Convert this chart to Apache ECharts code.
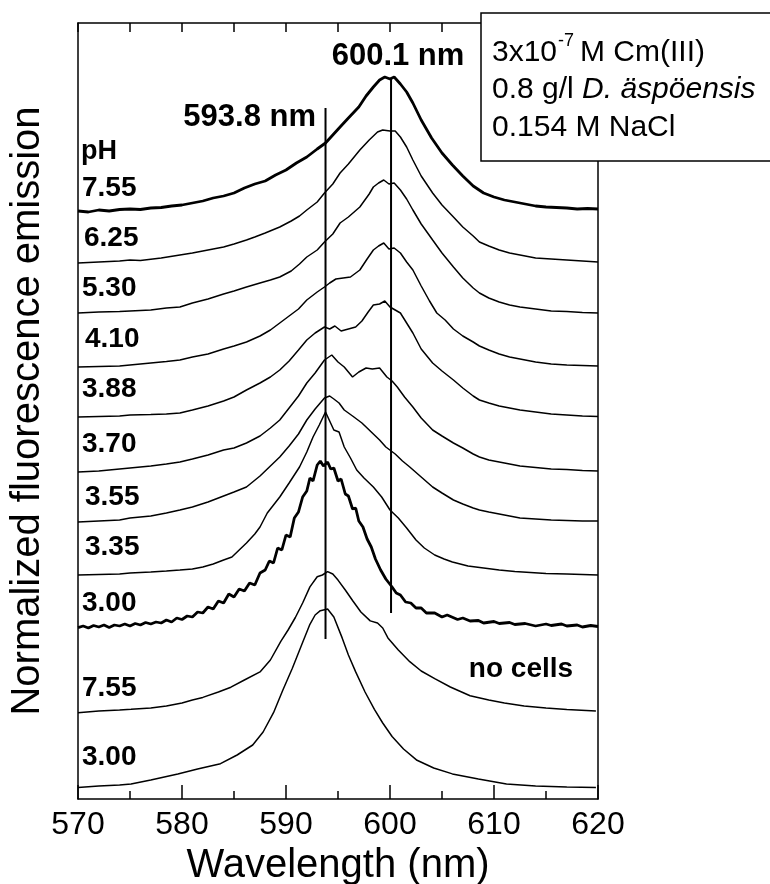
<!DOCTYPE html>
<html><head><meta charset="utf-8">
<script src="https://cdn.jsdelivr.net/npm/echarts@6/dist/echarts.min.js"></script>
<style>html,body{margin:0;padding:0;background:#fff}#c{width:770px;height:884px}</style>
</head><body><div id="c"></div>
<script>
// wavelength axis
const xMin = 570, xMax = 620, xStep = 10;
// stacked, offset spectra: [wavelength nm, intensity (a.u., with offset)]
const ph755 = [[570,588],[571,587],[572,589],[573,588],[574,589.5],[575,590],[576,589.5],[577,591],[578,591.5],[579,593],[580,594],[581,596],[582,598],[583,601],[584,603],[585,606],[586,611],[587,615],[588,618],[589,624],[590,629],[591,636],[592,642],[593,650],[593.8,656],[594.5,664],[595.2,672],[596,681],[597,692],[597.7,703],[598.4,712],[599,719],[599.5,722],[600,720],[600.4,722],[601,715],[601.6,707],[602.2,696],[603,679],[604,661],[605,646],[606,634],[607,623],[608,613],[609,606],[610,602],[611,599],[612,597],[613,595],[614,593],[615,592],[616,591.5],[617,591],[618,590],[619,590.5],[620,590]];
const ph625 = [[570,536],[572,537],[574,538],[575,539],[576,538.5],[578,541],[579.8,544],[581,546],[582,548],[583,550],[584,552],[585,555],[586.2,559],[587,562],[588,566],[589.4,572],[590.5,578],[591.3,583],[592,589],[593,597],[593.7,606],[594.5,615],[595.2,626],[596,635],[597.1,649],[598,659],[598.8,667],[599.3,669],[600,668],[600.5,668],[601,662],[601.6,652],[602.2,639],[603,623],[604.1,606],[605,594],[606.1,582],[607,572],[608,563],[608.6,557],[609.5,553],[610.5,549],[611.5,546],[612.5,544],[614,541],[615.5,540],[617,539],[618.5,538],[620,537]];
const ph530 = [[570,486],[572,487],[574,487.5],[575,488],[577,489],[578.5,491],[579.8,492],[581,496],[582.5,500],[584,505],[585,508],[586.2,512],[587.5,516],[588.5,519],[589.4,522],[590.5,528],[591.3,535],[592,542],[593,549],[593.7,557],[594.5,565],[595.2,576],[596,582],[597.1,592],[598,605],[598.4,612],[598.9,616],[599.4,619],[599.9,615],[600.4,616],[601,609],[601.6,600],[602.2,589],[603,575],[604.1,559],[605,546],[606.1,532],[607,521],[608,511],[608.6,506],[609.5,501],[610.5,497],[611.5,494],[612.5,492],[614,490],[615.5,488],[617,487.5],[618.5,486.5],[620,486]];
const ph410 = [[570,432],[572,432.5],[574,433],[575,434],[577,436],[578.5,437.5],[579.8,439],[581,442],[582.5,445],[584,450],[585,453],[586.2,457],[587.5,463],[588.5,469],[589.4,476],[590.3,483],[591.2,490],[592,499],[593,507],[593.7,512],[594.2,516],[594.8,520],[595.5,521],[596.2,522],[597.1,529],[597.8,540],[598.4,549],[598.9,553],[599.4,556],[599.9,550],[600.4,551],[601,546],[601.6,537],[602.2,529],[603,513],[603.8,498],[604.5,486],[605.3,479],[606.1,470],[607,463],[608,457],[608.6,453],[609.5,449],[610.5,445],[611.5,442],[612.5,440],[614,437],[615.5,435],[617,434],[618.5,433.5],[620,433]];
const ph388 = [[570,382],[572,382.5],[574,383],[575,384],[577,384.5],[578.5,385],[579.8,386],[581,389],[582.5,393],[584,398],[585,402],[586.2,409],[587.5,416],[588.5,422],[589.4,429],[590.3,438],[591.2,449],[592,459],[592.8,466],[593.7,472],[594.2,470],[594.7,473],[595.3,468],[596,470],[596.7,472],[597.3,478],[597.9,487],[598.4,494],[599,495],[599.5,498],[600,492],[600.5,489],[601,486],[601.6,476],[602.2,466],[603,450],[604.1,436],[605,428],[606.1,419],[607,411],[608,403],[608.6,399],[609.5,396],[610.5,393],[611.5,391],[612.5,389],[614,387],[615.5,385],[617,384],[618.5,383],[620,382.5]];
const ph370 = [[570,327],[572,328],[574,330],[575,331],[577,333],[578.5,335],[579.8,337],[581,340],[582.5,344],[584,349],[585,351],[586.2,356],[587.5,363],[588.5,371],[589.4,379],[590.3,391],[591.2,403],[592,416],[592.8,426],[593.7,439],[594.4,444],[595,437],[595.6,432],[596.4,422],[597,427],[597.7,431],[598.3,430],[599,431],[599.7,422],[600.2,418],[600.7,412],[601.4,402],[602.2,392],[603,381],[604.1,369],[605,363],[606.1,356],[607,351],[608,345],[608.6,342],[609.5,339],[610.5,337],[611.5,335],[612.5,333],[614,331.5],[615.5,330],[617,329.5],[618.5,328.5],[620,328]];
const ph355 = [[570,277],[572,278],[574,279],[575,281],[577,283],[578.5,286],[579.8,289],[581,292],[582.5,297],[584,303],[585,307],[586.2,312],[587.5,323],[588.5,333],[589.4,342],[590.3,353],[591.2,365],[592,379],[592.8,390],[593.7,401],[594.2,403],[594.6,400],[595.1,396],[595.6,389],[596.4,383],[597.3,376],[598.2,367],[599,359],[599.6,352],[600.5,345],[601.2,338],[601.9,332],[603,322],[604.1,312],[605,306],[606.1,299],[607,295],[608,291],[608.6,289],[609.5,287],[610.5,285],[611.5,283],[612.5,281],[614,280],[615.5,279],[617,278.5],[618.5,278],[620,278]];
const ph335 = [[570,224],[572,224.5],[574,225],[575,226],[577,227],[578.5,228],[579.8,229],[581,230],[582,232],[583,235],[584,239],[584.8,242],[585.5,249],[586.2,256],[587,265],[587.5,272],[588.2,286],[588.8,294],[589.4,302],[590.3,316],[591.3,332],[592,347],[592.6,362],[593.2,374],[593.8,387],[594.2,378],[594.6,369],[595.1,367],[595.6,352],[596.2,341],[596.8,329],[597.5,321],[598.4,312],[599.2,302],[600,289],[600.8,281],[601.6,271],[602.5,259],[603.3,251],[604.3,244],[605.2,240],[606,237],[607.5,233],[609,231],[610.5,229],[612,227.5],[613.5,226.5],[615,225.5],[617,225],[618.5,224.5],[620,224]];
const ph300 = [[570,171.3],[570.5,173],[571,171],[571.5,173.5],[572,172],[572.5,174],[573,171.5],[573.5,174],[574,173],[574.5,175],[575,173],[575.5,175.5],[576,174],[576.5,176.5],[577,175],[577.5,177],[578,176],[578.5,179],[579,177],[579.5,181],[580,179.5],[580.5,183],[581,182],[581.5,187],[582,186],[582.5,192],[583,190],[583.5,198],[584,196],[584.5,205],[585,202],[585.5,210],[586,208],[586.5,216],[587,214],[587.5,226],[588,229],[588.4,238],[588.8,236],[589.2,251],[589.6,249],[590,264],[590.4,262],[590.8,281],[591.2,287],[591.6,302],[592,308],[592.3,321],[592.6,318],[593,334],[593.3,338],[593.6,333],[594,337],[594.3,330],[594.6,331],[595,318],[595.3,320],[595.7,305],[596,303],[596.4,290],[596.7,291],[597,278],[597.4,272],[597.8,260],[598.2,252],[598.6,240],[599.1,229],[599.6,220],[600.2,212],[600.6,206],[601,204],[601.5,197],[602,196],[602.5,191],[603,191],[603.5,186],[604.3,186],[605,182],[605.5,184],[606.5,179.5],[607,181],[607.7,178],[608.5,178.5],[609,176],[610,177.5],[610.5,175.5],[611.5,176.5],[612,174.5],[613,175.5],[614,173],[615,175],[615.5,173.5],[616.5,175],[617,173],[618,174],[618.5,172],[619.3,173.5],[620,172.5]];
const noCells755 = [[570,86.3],[572,88],[574,89],[575.1,89.7],[577,91],[578.5,93.1],[580,96],[581,99],[582,101.6],[583.5,107],[584.7,111.8],[586,119],[587.5,127.1],[588.5,139],[589.5,157.7],[590.2,169],[590.9,181.5],[591.6,196],[592.3,212.1],[593,222.3],[593.5,224],[594,227.4],[594.5,225],[595,218.9],[595.7,209],[596.4,198.5],[597.2,187],[598.1,178.1],[598.8,176],[599.3,171],[599.8,161.1],[600.8,149],[601.9,137.3],[603,128],[604.3,120.3],[605.8,112],[607.7,103.3],[609.5,99],[611,96],[612.9,93.1],[615,91],[617,89.5],[619.8,88]];
const noCells300 = [[570,11.5],[572,13],[574,14],[575.1,14.9],[577,19],[579.6,25.1],[581.5,30],[583.7,35.3],[585.3,44],[586.8,54],[587.8,67],[588.8,86.3],[589.7,109],[590.6,130.5],[591.5,154],[592.3,174.7],[592.8,184],[593.3,188.3],[594,190],[594.6,182],[595.4,161.1],[596,144],[596.7,127.1],[597.6,107],[598.5,89.7],[599.3,76],[600.2,62.5],[601.3,50],[602.6,38.7],[604.2,31],[606,25.1],[608.5,20],[611.2,14.9],[614,13],[617,12],[619.8,11.5]];
// peak marker lines [wavelength, from, to]
const peakLines = [[593.8, 160, 691], [600.1, 186, 721]];
const peakTexts = ['593.8 nm', '600.1 nm'];
const phLabels = ['7.55','6.25','5.30','4.10','3.88','3.70','3.55','3.35','3.00','7.55','3.00'];
const yMax = 776;

const traces = [ph755, ph625, ph530, ph410, ph388, ph370, ph355, ph335, ph300, noCells755, noCells300];
const thick = [true,false,false,false,false,false,false,false,true,false,false];

const series = traces.map((d, i) => ({
  type: 'line', data: d, showSymbol: false, silent: true,
  lineStyle: { color: '#000', width: thick[i] ? 2.8 : 1.5 }, z: 3
}));
peakLines.forEach(p => series.push({
  type: 'line', data: [[p[0], p[1]], [p[0], p[2]]], showSymbol: false, silent: true,
  lineStyle: { color: '#000', width: 2 }, z: 4
}));

const FF = '"Liberation Sans", Arial';
const labelY = [188, 238, 288, 339, 389, 444, 497, 547, 603, 688, 757];
const labelX = [82, 84, 82, 85, 82, 82, 85, 85, 82, 82, 82];
const graphic = [];
graphic.push({ type: 'text', x: 81, y: 152, style: { text: 'pH', font: 'bold 27px ' + FF, fill: '#000', verticalAlign: 'middle' }, z: 10 });
phLabels.forEach((t, i) => graphic.push({ type: 'text', x: labelX[i], y: labelY[i], style: { text: t, font: 'bold 28px ' + FF, fill: '#000', verticalAlign: 'middle' }, z: 10 }));
graphic.push({ type: 'text', x: 521, y: 669, style: { text: 'no cells', font: 'bold 28px ' + FF, fill: '#000', align: 'center', verticalAlign: 'middle' }, z: 10 });
graphic.push({ type: 'text', x: 316, y: 117, style: { text: peakTexts[0], font: 'bold 31px ' + FF, fill: '#000', align: 'right', verticalAlign: 'middle' }, z: 10 });
graphic.push({ type: 'text', x: 398, y: 56, style: { text: peakTexts[1], font: 'bold 31px ' + FF, fill: '#000', align: 'center', verticalAlign: 'middle' }, z: 10 });
// info box
graphic.push({ type: 'rect', shape: { x: 481, y: 13, width: 300, height: 148 }, style: { fill: '#fff', stroke: '#000', lineWidth: 1.5 }, z: 20 });
const boxFont = '30px ' + FF;
graphic.push({ type: 'text', x: 492, y: 53, style: { text: '3x10', font: boxFont, fill: '#000', verticalAlign: 'middle' }, z: 21 });
graphic.push({ type: 'text', x: 558, y: 41, style: { text: '-7', font: '18px ' + FF, fill: '#000', verticalAlign: 'middle' }, z: 21 });
graphic.push({ type: 'text', x: 580, y: 53, style: { text: 'M Cm(III)', font: boxFont, fill: '#000', verticalAlign: 'middle' }, z: 21 });
graphic.push({ type: 'text', x: 492, y: 90, style: { text: '{a|0.8 g/l }{b|D. äspöensis}', verticalAlign: 'middle', rich: { a: { font: boxFont, fill: '#000' }, b: { font: 'italic ' + boxFont, fill: '#000' } } }, z: 21 });
graphic.push({ type: 'text', x: 492, y: 128, style: { text: '0.154 M NaCl', font: boxFont, fill: '#000', verticalAlign: 'middle' }, z: 21 });

const chart = echarts.init(document.getElementById('c'), null, { renderer: 'canvas' });
chart.setOption({
  animation: false,
  backgroundColor: '#fff',
  grid: { left: 78, right: 172, top: 23, bottom: 85, containLabel: false, outerBoundsMode: 'none' },
  xAxis: [{
    type: 'value', min: xMin, max: xMax, interval: xStep, position: 'bottom',
    axisLine: { show: true, onZero: false, lineStyle: { color: '#000', width: 1.5 } },
    axisTick: { show: true, inside: true, length: 14, lineStyle: { color: '#000', width: 1.5 } },
    minorTick: { show: true, splitNumber: 2, length: 8, lineStyle: { color: '#000', width: 1.5 } },
    splitLine: { show: false },
    axisLabel: { color: '#000', fontSize: 32, fontFamily: FF, margin: 10 },
    name: 'Wavelength (nm)', nameLocation: 'middle', nameGap: 36,
    nameTextStyle: { color: '#000', fontSize: 40, fontFamily: FF }
  }, {
    type: 'value', min: xMin, max: xMax, interval: 5, position: 'top',
    axisLine: { show: true, onZero: false, lineStyle: { color: '#000', width: 1.5 } },
    axisTick: { show: true, inside: true, length: 9, lineStyle: { color: '#000', width: 1.5 } },
    axisLabel: { show: false }, splitLine: { show: false }
  }],
  yAxis: [{
    type: 'value', min: 0, max: yMax, position: 'left',
    axisLine: { show: true, onZero: false, lineStyle: { color: '#000', width: 1.5 } },
    axisTick: { show: false }, axisLabel: { show: false }, splitLine: { show: false },
    name: 'Normalized fluorescence emission', nameLocation: 'middle', nameGap: 30, nameRotate: 90,
    nameTextStyle: { color: '#000', fontSize: 40, fontFamily: FF }
  }, {
    type: 'value', min: 0, max: yMax, position: 'right',
    axisLine: { show: true, onZero: false, lineStyle: { color: '#000', width: 1.5 } },
    axisTick: { show: false }, axisLabel: { show: false }, splitLine: { show: false }
  }],
  series: series,
  graphic: graphic
});
</script></body></html>
